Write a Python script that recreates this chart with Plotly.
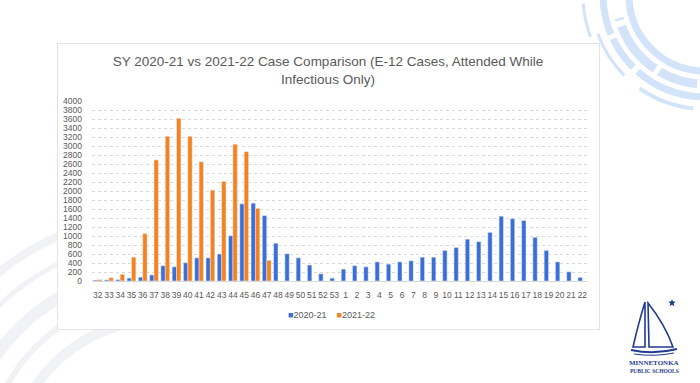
import base64, math
import plotly.graph_objects as go

weeks = [str(w) for w in range(32, 54)] + [str(w) for w in range(1, 23)]
cases_2020_21 = [20, 25, 30, 65, 85, 135, 340, 315, 405, 515, 515, 600, 1005, 1715, 1730, 1455,
                 840, 605, 515, 355, 160, 65, 265, 340, 315, 425, 375, 425, 450, 530, 530,
                 680, 745, 930, 875, 1080, 1440, 1385, 1345, 970, 680, 425, 205, 80]
cases_2021_22 = [30, 75, 150, 530, 1055, 2690, 3215, 3615, 3215, 2650, 2020, 2215, 3040, 2875, 1615, 460]
weeks_2021_22 = weeks[:len(cases_2021_22)]
series_names = ["2020-21", "2021-22"]
series_colors = ["#3c6fd6", "#f58220"]

W, H = 700, 383
L, R, T, B = 92, 112, 101, 102
PW, PH = W - L - R, H - T - B

def arc(cx, cy, r, a0, a1, width, color, dash=None, opacity=1):
    x0, y0 = cx + r * math.cos(math.radians(a0)), cy + r * math.sin(math.radians(a0))
    x1, y1 = cx + r * math.cos(math.radians(a1)), cy + r * math.sin(math.radians(a1))
    large = 1 if abs(a1 - a0) > 180 else 0
    sweep = 1 if a1 > a0 else 0
    d = f'stroke-dasharray="{dash}"' if dash else ''
    return (f'<path d="M{x0:.1f},{y0:.1f} A{r},{r} 0 {large} {sweep} {x1:.1f},{y1:.1f}" '
            f'fill="none" stroke="{color}" stroke-width="{width}" {d} opacity="{opacity}"/>')

parts = []
# very faint arcs bottom-left
fc = "#f1f2f6"
for r, w in [(150, 10), (175, 6), (200, 12), (230, 5), (255, 8)]:
    parts.append(arc(160, 470, r, 185, 265, w, fc))
# top-right arcs
tc = "#d3e3f9"
cx, cy = 705, -5
parts.append(arc(cx, cy, 76, 92, 178, 7, tc))
parts.append(arc(cx, cy, 89, 95, 165, 9, tc, "40 5 55 6"))
parts.append(arc(cx, cy, 102, 92, 178, 7, tc, "70 6 35 5"))
parts.append(arc(cx, cy, 114, 96, 125, 4, tc))
parts.append(arc(cx, cy, 114, 135, 160, 3, tc))
parts.append(arc(cx, cy, 122, 160, 176, 3, tc))
parts.append('<rect x="57.5" y="43.5" width="542" height="286" fill="#ffffff" stroke="#e4e4e4" stroke-width="1"/>')
# logo (sailboat)
lc = "#1f3c8f"
parts.append(f'<path d="M645,302 C640,318 636,334 633,347 L645,347 Z" fill="none" stroke="{lc}" stroke-width="1.6"/>')
parts.append(f'<path d="M648,303 C660,318 668,333 673,347 L649,347 Z" fill="none" stroke="{lc}" stroke-width="1.6"/>')
parts.append(f'<path d="M631,350 Q654,355 677,349" fill="none" stroke="{lc}" stroke-width="2"/>')
parts.append(f'<path d="M634,354 Q654,357 674,353" fill="none" stroke="{lc}" stroke-width="1"/>')
sx, sy, so, si = 672, 303, 4, 1.7
pts = []
for k in range(10):
    rr = so if k % 2 == 0 else si
    a = math.radians(-90 + k * 36)
    pts.append(f"{sx + rr*math.cos(a):.1f},{sy + rr*math.sin(a):.1f}")
parts.append(f'<polygon points="{" ".join(pts)}" fill="{lc}"/>')

svg = f'<svg xmlns="http://www.w3.org/2000/svg" width="{W}" height="{H}" viewBox="0 0 {W} {H}">' + "".join(parts) + '</svg>'
src = "data:image/svg+xml;base64," + base64.b64encode(svg.encode()).decode()

def px(x):
    return (x - L) / PW

def py(y):
    return (H - B - y) / PH

fig = go.Figure()
fig.add_trace(go.Bar(x=weeks, y=cases_2020_21, name=series_names[0], marker_color=series_colors[0]))
fig.add_trace(go.Bar(x=weeks_2021_22, y=cases_2021_22, name=series_names[1], marker_color=series_colors[1]))

legend_text = ("<span style='color:%s'>■</span>%s    <span style='color:%s'>■</span>%s"
               % (series_colors[0], series_names[0], series_colors[1], series_names[1]))

fig.update_layout(
    width=W, height=H,
    margin=dict(l=L, r=R, t=T, b=B, pad=0),
    paper_bgcolor="#ffffff", plot_bgcolor="rgba(0,0,0,0)",
    barmode="group", bargap=0.22, bargroupgap=0.0,
    showlegend=False,
    font=dict(family="Liberation Sans, Arial, sans-serif", color="#595959"),
    title=dict(text="SY 2020-21 vs 2021-22 Case Comparison (E-12 Cases, Attended While<br>Infectious Only)",
               x=328 / W, xanchor="center", xref="container", y=1 - 66 / H, yanchor="top", yref="container",
               font=dict(family="Liberation Sans Narrow, Liberation Sans, sans-serif", size=13.5, color="#595959")),
    images=[dict(source=src, xref="paper", yref="paper", x=px(0), y=py(0), sizex=W / PW, sizey=H / PH,
                 xanchor="left", yanchor="top", sizing="stretch", layer="below")],
    annotations=[
        dict(text=legend_text, x=px(331), y=py(315), xref="paper", yref="paper", showarrow=False,
             font=dict(size=9, color="#595959"), xanchor="center", yanchor="middle"),
        dict(text="<b>MINNETONKA</b>", x=px(654), y=py(363), xref="paper", yref="paper", showarrow=False,
             font=dict(family="Liberation Serif, serif", size=7, color="#1f3c8f"), xanchor="center", yanchor="middle"),
        dict(text="<b>PUBLIC SCHOOLS</b>", x=px(654), y=py(371), xref="paper", yref="paper", showarrow=False,
             font=dict(family="Liberation Serif, serif", size=5.5, color="#1f3c8f"), xanchor="center", yanchor="middle"),
    ],
)
fig.update_xaxes(type="category", categoryorder="array", categoryarray=weeks, tickangle=0,
                 tickfont=dict(size=8.5, color="#595959"), ticks="", showgrid=False,
                 showline=True, linecolor="#d9d9d9", linewidth=1, ticklabelstandoff=6)
fig.update_yaxes(range=[0, 4000], dtick=200, tickfont=dict(size=8.5, color="#595959"), ticks="",
                 showgrid=True, gridcolor="#d9d9d9", griddash="dot", gridwidth=1,
                 zeroline=False, showline=False, ticklabelstandoff=9)

fig.write_html("out.html", config={"displayModeBar": False},
               post_script="document.body.style.margin='0';document.body.style.overflow='hidden';")
